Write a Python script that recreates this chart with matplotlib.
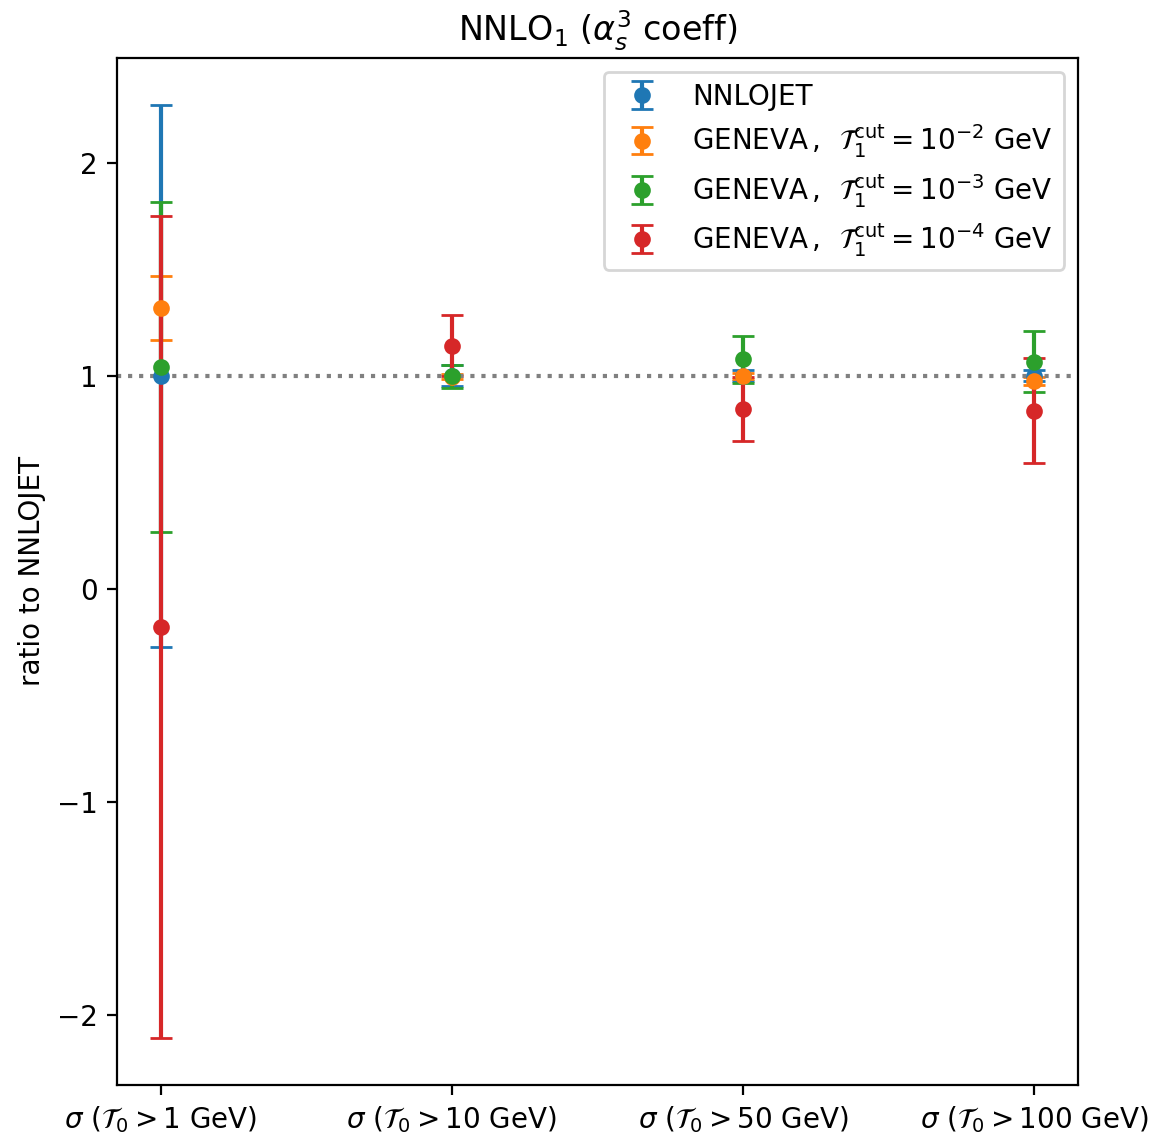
import matplotlib
matplotlib.use("Agg")
import matplotlib.pyplot as plt
import numpy as np

# categories (x tick labels)
labels = [r"$\sigma$ ($\mathcal{T}_0 > 1$ GeV)",
          r"$\sigma$ ($\mathcal{T}_0 > 10$ GeV)",
          r"$\sigma$ ($\mathcal{T}_0 > 50$ GeV)",
          r"$\sigma$ ($\mathcal{T}_0 > 100$ GeV)"]

# ratios to NNLOJET and their errors
nnlojet = [1.0, 1.0, 1.0, 1.0]
nnlojet_err = [1.272, 0.05, 0.025, 0.025]

geneva_2 = [1.319, 0.995, 0.998, 0.975]
geneva_2_err = [0.150, 0.012, 0.015, 0.020]

geneva_3 = [1.041, 0.998, 1.077, 1.067]
geneva_3_err = [0.775, 0.054, 0.112, 0.141]

geneva_4 = [-0.180, 1.142, 0.845, 0.837]
geneva_4_err = [1.928, 0.144, 0.149, 0.247]

series = [
    (nnlojet, nnlojet_err, "NNLOJET"),
    (geneva_2, geneva_2_err, r"GENEVA$\,,\ \,\mathcal{T}_1^{\rm cut} = 10^{-2}$ GeV"),
    (geneva_3, geneva_3_err, r"GENEVA$\,,\ \,\mathcal{T}_1^{\rm cut} = 10^{-3}$ GeV"),
    (geneva_4, geneva_4_err, r"GENEVA$\,,\ \,\mathcal{T}_1^{\rm cut} = 10^{-4}$ GeV"),
]

dpi = 200
fig = plt.figure(figsize=(1151 / dpi, 1133 / dpi), dpi=dpi)
ax = fig.add_axes([117 / 1151, 48 / 1133, 961 / 1151, 1027 / 1133])

x = np.arange(len(labels))
for vals, errs, lab in series:
    ax.errorbar(x, vals, yerr=errs, fmt='o', markersize=5, capsize=4, label=lab)

ax.axhline(1, color='gray', ls=':')
ax.set_xticks(x)
ax.set_xticklabels(labels)
ax.set_ylabel("ratio to NNLOJET")
ax.set_title(r"NNLO$_1$ ($\alpha_s^3$ coeff)")
ax.legend(loc='upper right', labelspacing=0.41)

fig.savefig("out.png", dpi=dpi)
